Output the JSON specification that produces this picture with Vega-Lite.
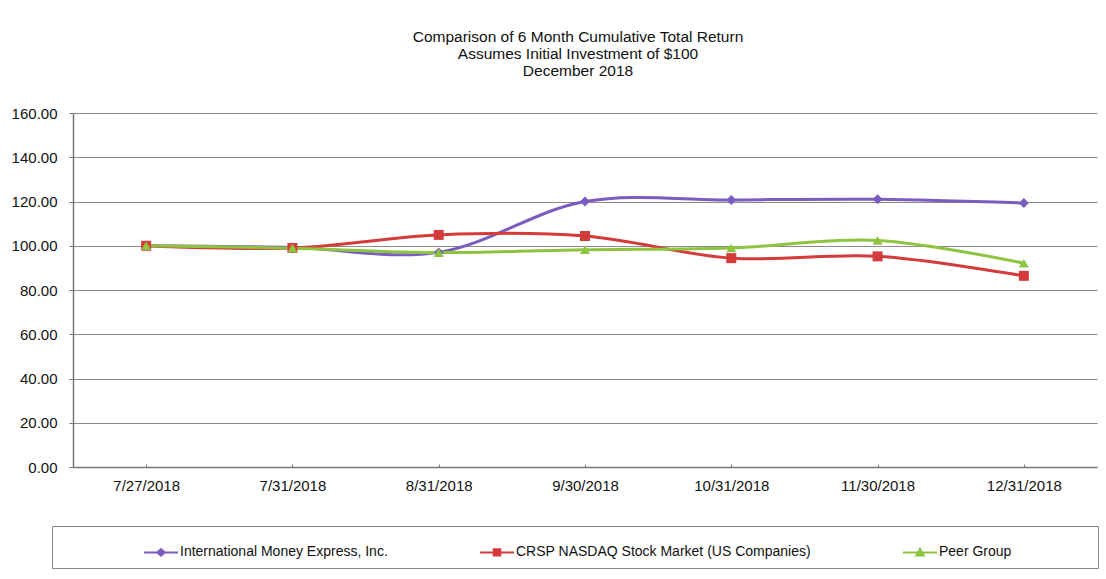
{
  "$schema": "https://vega.github.io/schema/vega-lite/v6.json",
  "width": 1024,
  "height": 354,
  "autosize": {"type": "none"},
  "padding": {"left": 73, "top": 113, "right": 9, "bottom": 112},
  "background": "white",
  "title": {
    "text": ["Comparison of 6 Month Cumulative Total Return", "Assumes Initial Investment of $100", "December 2018"],
    "font": "Liberation Sans",
    "fontSize": 15.5,
    "fontWeight": "normal",
    "color": "#111111",
    "lineHeight": 17,
    "anchor": "middle",
    "frame": "group",
    "dx": -7,
    "offset": 27
  },
  "data": {
    "values": [
      {"date": "7/27/2018", "series": "International Money Express, Inc.", "value": 100},
      {"date": "7/31/2018", "series": "International Money Express, Inc.", "value": 99.2},
      {"date": "8/31/2018", "series": "International Money Express, Inc.", "value": 97.0},
      {"date": "9/30/2018", "series": "International Money Express, Inc.", "value": 120.0},
      {"date": "10/31/2018", "series": "International Money Express, Inc.", "value": 120.7},
      {"date": "11/30/2018", "series": "International Money Express, Inc.", "value": 121.0},
      {"date": "12/31/2018", "series": "International Money Express, Inc.", "value": 119.3},
      {"date": "7/27/2018", "series": "CRSP NASDAQ Stock Market (US Companies)", "value": 100},
      {"date": "7/31/2018", "series": "CRSP NASDAQ Stock Market (US Companies)", "value": 99.0},
      {"date": "8/31/2018", "series": "CRSP NASDAQ Stock Market (US Companies)", "value": 104.9},
      {"date": "9/30/2018", "series": "CRSP NASDAQ Stock Market (US Companies)", "value": 104.4},
      {"date": "10/31/2018", "series": "CRSP NASDAQ Stock Market (US Companies)", "value": 94.4},
      {"date": "11/30/2018", "series": "CRSP NASDAQ Stock Market (US Companies)", "value": 95.2},
      {"date": "12/31/2018", "series": "CRSP NASDAQ Stock Market (US Companies)", "value": 86.4},
      {"date": "7/27/2018", "series": "Peer Group", "value": 100},
      {"date": "7/31/2018", "series": "Peer Group", "value": 98.9},
      {"date": "8/31/2018", "series": "Peer Group", "value": 96.9},
      {"date": "9/30/2018", "series": "Peer Group", "value": 98.2},
      {"date": "10/31/2018", "series": "Peer Group", "value": 99.0},
      {"date": "11/30/2018", "series": "Peer Group", "value": 102.4},
      {"date": "12/31/2018", "series": "Peer Group", "value": 92.1}
    ]
  },
  "encoding": {
    "x": {
      "field": "date",
      "type": "ordinal",
      "sort": null,
      "scale": {"type": "point", "padding": 0.5},
      "axis": {
        "title": null,
        "labelAngle": 0,
        "labelFont": "Liberation Sans",
        "labelFontSize": 15,
        "labelColor": "#111111",
        "labelPadding": 14,
        "tickSize": -3,
        "tickColor": "#777777",
        "domainColor": "#777777",
        "domainWidth": 1.5,
        "grid": false
      }
    },
    "y": {
      "field": "value",
      "type": "quantitative",
      "scale": {"domain": [0, 160], "nice": false},
      "axis": {
        "title": null,
        "values": [0, 20, 40, 60, 80, 100, 120, 140, 160],
        "format": ".2f",
        "labelFont": "Liberation Sans",
        "labelFontSize": 15,
        "labelColor": "#111111",
        "labelPadding": 12,
        "tickSize": 4,
        "tickColor": "#777777",
        "domainColor": "#777777",
        "domainWidth": 1.5,
        "grid": true,
        "gridColor": "#8a8a8a",
        "gridWidth": 1
      }
    },
    "color": {
      "field": "series",
      "type": "nominal",
      "sort": null,
      "scale": {
        "domain": ["International Money Express, Inc.", "CRSP NASDAQ Stock Market (US Companies)", "Peer Group"],
        "range": ["#7b5cc0", "#d43b3b", "#8dc540"]
      },
      "legend": {
        "title": " ",
        "titleOrient": "right",
        "titlePadding": 79,
        "titleFontSize": 12,
        "orient": "none",
        "legendX": -21,
        "legendY": 413,
        "direction": "horizontal",
        "strokeColor": "#888888",
        "padding": 8,
        "symbolOffset": 83,
        "columnPadding": 8,
        "symbolSize": 1156,
        "symbolStrokeWidth": 2,
        "symbolOpacity": 1,
        "labelFont": "Liberation Sans",
        "labelFontSize": 14,
        "labelColor": "#111111",
        "labelOffset": 1,
        "labelLimit": 400
      }
    }
  },
  "layer": [
    {
      "mark": {
        "type": "line",
        "interpolate": "catmull-rom",
        "strokeWidth": 3,
        "shape": {"expr": "datum.series ? (datum.series === 'Peer Group' ? 'triangle-up' : datum.series === 'International Money Express, Inc.' ? 'diamond' : 'square') : (datum.value === 'Peer Group' ? 'M-1,0H1M-0.22,0.19L0,-0.21L0.22,0.19Z' : datum.value === 'International Money Express, Inc.' ? 'M-1,0H1M-0.22,0L0,-0.19L0.22,0L0,0.19Z' : 'M-1,0H1M-0.19,-0.19H0.19V0.19H-0.19Z')"}
      }
    },
    {
      "mark": {
        "type": "point",
        "filled": true,
        "opacity": 1,
        "size": 100,
        "shape": {"expr": "datum.series ? (datum.series === 'Peer Group' ? 'triangle-up' : datum.series === 'International Money Express, Inc.' ? 'diamond' : 'square') : (datum.value === 'Peer Group' ? 'M-1,0H1M-0.22,0.19L0,-0.21L0.22,0.19Z' : datum.value === 'International Money Express, Inc.' ? 'M-1,0H1M-0.22,0L0,-0.19L0.22,0L0,0.19Z' : 'M-1,0H1M-0.19,-0.19H0.19V0.19H-0.19Z')"}
      }
    }
  ],
  "config": {
    "view": {"stroke": null}
  }
}
